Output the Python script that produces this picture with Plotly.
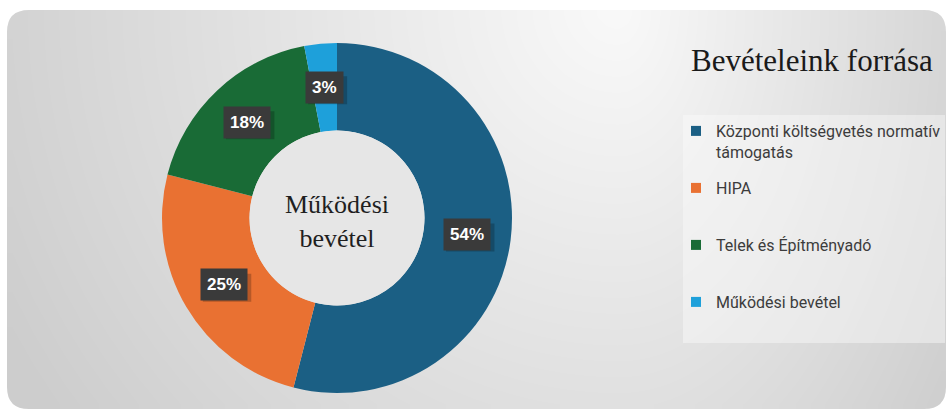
import numpy as np
import plotly.graph_objects as go

# ---------------- data ----------------
labels = ["Központi költségvetés normatív támogatás", "HIPA",
          "Telek és Építményadó", "Működési bevétel"]
legend_labels = ["Központi költségvetés normatív<br>támogatás", "HIPA",
                 "Telek és Építményadó", "Működési bevétel"]
values = [54, 25, 18, 3]
colors = ["#1b5f84", "#e97132", "#196b36", "#1ea0da"]
title_text = "Bevételeink forrása"
center_text = "Működési<br>bevétel"

# ---------------- layout helpers ----------------
W, H = 948, 410
def px(x):
    return x / W
def py(y):
    return 1 - y / H

PX0, PX1, PY0, PY1 = 7, 946, 10, 409   # panel in pixels
CX, CY, R = 337, 218, 175              # donut centre / radius in pixels
HOLE = 0.5

fig = go.Figure()

# ---- background gradient panel (style only) ----
nx, ny = 90, 40
xs = np.linspace(PX0, PX1, nx)
ys = np.linspace(PY0, PY1, ny)
XX, YY = np.meshgrid(xs, ys)
lx, ly = 620.0, 0.0
ax_ = np.where(XX < lx, 590.0, 350.0)
d = np.sqrt(((XX - lx) / ax_) ** 2 + ((YY - ly) / 600.0) ** 2)
Z = 249 - 37 * d
dx = xs[1] - xs[0]
dy = ys[1] - ys[0]
fig.add_trace(go.Heatmap(x=xs, y=ys, z=Z, zsmooth="best", showscale=False,
                         colorscale=[[0, "rgb(205,205,205)"], [1, "rgb(250,250,250)"]],
                         zmin=205, zmax=250, hoverinfo="skip"))

# ---- donut ----
fig.add_trace(go.Pie(labels=labels, values=values, sort=False, direction="clockwise",
                     rotation=0, hole=HOLE, textinfo="none", showlegend=False,
                     marker=dict(colors=colors, line=dict(width=0)),
                     domain=dict(x=[px(CX - R), px(CX + R)], y=[py(CY + R), py(CY - R)])))

# ---- legend entries (one legend per entry for spacing) ----
LEG_TOP = [114, 171, 228, 285]
for i, (lab, col) in enumerate(zip(legend_labels, colors)):
    lname = "legend" if i == 0 else f"legend{i+1}"
    fig.add_trace(go.Scatter(x=[None], y=[None], mode="markers", name=lab,
                             marker=dict(symbol="square", size=10, color=col),
                             legend=lname, showlegend=True, hoverinfo="skip"))
    fig.update_layout(**{lname: dict(x=px(676), xanchor="left", y=py(LEG_TOP[i]),
                                     yanchor="top", bgcolor="rgba(0,0,0,0)",
                                     font=dict(family="Roboto", size=16, color="#3c3c3c"),
                                     valign="top", itemclick=False, itemdoubleclick=False)})

# ---- percentage labels ----
total = sum(values)
annotations = []
shapes = []
cum = 0.0
r_lab = R * (1 + HOLE) / 2
for v in values:
    mid = (cum + v / 2) / total
    cum += v
    th = 2 * np.pi * mid
    lx_ = CX + r_lab * np.sin(th)
    ly_ = CY - r_lab * np.cos(th)
    txt = f"{round(v / total * 100)}%"
    # drop shadow behind the label box (approximate box size from text length)
    bw = 9.5 * (len(txt) - 1) + 15.5 + 14
    bh = 28
    sx, sy = 3, 3
    shapes.append(dict(type="rect", xref="paper", yref="paper", layer="above",
                       x0=px(lx_ - bw / 2 + sx), x1=px(lx_ + bw / 2 + sx),
                       y0=py(ly_ + bh / 2 + sy), y1=py(ly_ - bh / 2 + sy),
                       fillcolor="rgba(0,0,0,0.22)", line=dict(width=0)))
    annotations.append(dict(x=px(lx_), y=py(ly_), xref="paper", yref="paper",
                            xanchor="center", yanchor="middle", showarrow=False,
                            text=f"<b>{txt}</b>", borderpad=6, bgcolor="#3a3a3a",
                            font=dict(family="Liberation Sans", size=17, color="white")))

annotations.append(dict(x=px(CX), y=py(CY + 3), xref="paper", yref="paper",
                        xanchor="center", yanchor="middle", showarrow=False,
                        text=center_text,
                        font=dict(family="Liberation Serif", size=26, color="#1f1f1f")))
annotations.append(dict(x=px(812), y=py(60), xref="paper", yref="paper",
                        xanchor="center", yanchor="middle", showarrow=False,
                        text=title_text,
                        font=dict(family="Liberation Serif", size=31, color="#1a1a1a")))

# ---- shapes: hole disc, legend box, rounded-corner masks ----
r_in = R * HOLE
shapes.insert(0, dict(type="circle", xref="paper", yref="paper", layer="above",
                      x0=px(CX - r_in), x1=px(CX + r_in), y0=py(CY + r_in), y1=py(CY - r_in),
                      fillcolor="#e6e6e6", line=dict(width=0)))
shapes.append(dict(type="rect", xref="paper", yref="paper", layer="above",
                   x0=px(683), x1=px(945), y0=py(343), y1=py(115),
                   fillcolor="rgba(250,250,250,0.45)", line=dict(width=0)))
rc = 22
corners = [
    ((PX0, PY0), (PX0 + rc, PY0), (PX0, PY0 + rc)),
    ((PX1, PY0), (PX1 - rc, PY0), (PX1, PY0 + rc)),
    ((PX0, PY1), (PX0 + rc, PY1), (PX0, PY1 - rc)),
    ((PX1, PY1), (PX1 - rc, PY1), (PX1, PY1 - rc)),
]
for (c, a, b) in corners:
    path = (f"M {px(c[0])} {py(c[1])} L {px(a[0])} {py(a[1])} "
            f"Q {px(c[0])} {py(c[1])} {px(b[0])} {py(b[1])} Z")
    shapes.append(dict(type="path", path=path, xref="paper", yref="paper", layer="above",
                       fillcolor="white", line=dict(width=0)))

fig.update_layout(
    width=W, height=H, margin=dict(l=0, r=0, t=0, b=0),
    paper_bgcolor="white", plot_bgcolor="rgba(0,0,0,0)",
    xaxis=dict(visible=False, domain=[px(PX0), px(PX1)],
               range=[xs[0] - dx / 2, xs[-1] + dx / 2], fixedrange=True),
    yaxis=dict(visible=False, domain=[py(PY1), py(PY0)],
               range=[ys[-1] + dy / 2, ys[0] - dy / 2], fixedrange=True),
    annotations=annotations, shapes=shapes,
)

fig.write_html("out.html", config={"displayModeBar": False},
               post_script="document.body.style.margin='0';document.body.style.overflow='hidden';")
